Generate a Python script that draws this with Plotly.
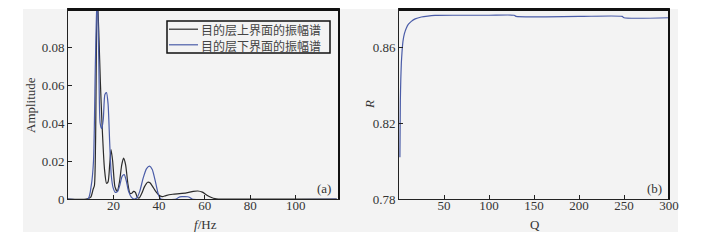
import plotly.graph_objects as go

# ---- data: panel (a) amplitude spectra ----
freq_upper = [0, 8, 10, 11, 11.6, 12.1, 12.8, 13.6, 14.2, 15, 16, 16.9, 17.6, 18.3, 18.9, 19.6,
              20.6, 21.6, 22.6, 23.6, 24.4, 25.3, 26.3, 27.2, 28, 28.8, 29.6, 30.4, 31.2, 32.4,
              33.6, 35, 36, 37.2, 38.5, 40, 41.5, 43, 46, 49, 52, 55, 57, 59, 61, 63, 64.5, 66, 118]
amp_upper = [0, 0, 0.001, 0.005, 0.007, 0.03, 0.11, 0.085, 0.062, 0.038, 0.016, 0.0083, 0.009,
             0.018, 0.026, 0.02, 0.0065, 0.004, 0.009, 0.018, 0.0215, 0.018, 0.008, 0.003, 0.003,
             0.004, 0.0035, 0.001, 0.0005, 0.003, 0.0065, 0.0088, 0.0085, 0.0065, 0.004, 0.002,
             0.0012, 0.0018, 0.0025, 0.0028, 0.0032, 0.004, 0.0042, 0.0036, 0.002, 0.0008, 0.0002, 0, 0]

freq_lower = [0, 8.8, 10.2, 11.2, 12, 12.8, 13.5, 14.1, 14.8, 15.5, 16.2, 16.9, 17.6, 18.3, 19,
              19.8, 20.8, 21.8, 22.8, 23.8, 24.7, 25.6, 26.6, 27.8, 29, 30.2, 31.5, 33, 34.5, 35.8,
              37, 38.5, 39.8, 40.8, 47.5, 48.5, 50, 52.5, 53.5, 54.5, 118]
amp_lower = [0, 0, 0.007, 0.02, 0.07, 0.11, 0.075, 0.04, 0.037, 0.042, 0.055, 0.056, 0.05, 0.03,
             0.0125, 0.006, 0.0035, 0.004, 0.0075, 0.012, 0.0128, 0.0095, 0.004, 0.001, 0, 0.0005,
             0.004, 0.011, 0.016, 0.0173, 0.0155, 0.0085, 0.002, 0, 0, 0.0008, 0.0012, 0.0012,
             0.0008, 0, 0]

name_upper = "目的层上界面的振幅谱"
name_lower = "目的层下界面的振幅谱"

# ---- data: panel (b) R vs Q ----
q_values = [1, 1.5, 2, 2.6, 3.3, 4.4, 6, 8.2, 10.5, 13.7, 18, 24.8, 32, 40, 60, 100, 128, 130,
            200, 248, 250, 300]
r_values = [0.802, 0.832, 0.843, 0.8515, 0.857, 0.863, 0.867, 0.870, 0.872, 0.8735, 0.8748,
            0.8758, 0.8763, 0.8766, 0.8767, 0.8767, 0.8767, 0.8761, 0.8761, 0.8761, 0.8754, 0.8754]

a_xticks = [20, 40, 60, 80, 100]
a_yticks = [0, 0.02, 0.04, 0.06, 0.08]
a_yticklabels = ["0", "0.02", "0.04", "0.06", "0.08"]
b_xticks = [50, 100, 150, 200, 250, 300]
b_yticks = [0.78, 0.82, 0.86]

W, H = 704, 242
BLACK = "#2b2b2b"
BLUE = "#4a5ca8"
BG = "#f3f3f3"
SERIF = "Liberation Serif, Times New Roman, serif"
CJK = "Noto Sans CJK SC"

def px(x):
    return x / W

def py(y):
    return 1 - y / H

fig = go.Figure()
fig.add_trace(go.Scatter(x=freq_upper, y=amp_upper, name=name_upper, mode="lines",
                         line=dict(color=BLACK, width=1.2, shape="spline", smoothing=0.6),
                         xaxis="x", yaxis="y", showlegend=False))
fig.add_trace(go.Scatter(x=freq_lower, y=amp_lower, name=name_lower, mode="lines",
                         line=dict(color=BLUE, width=1.2, shape="spline", smoothing=0.6),
                         xaxis="x", yaxis="y", showlegend=False))
fig.add_trace(go.Scatter(x=q_values, y=r_values, mode="lines", showlegend=False,
                         line=dict(color=BLUE, width=1.2, shape="spline", smoothing=0.6),
                         xaxis="x2", yaxis="y2"))

axis_common = dict(showgrid=False, zeroline=False, showline=True, linecolor="#222",
                   linewidth=1, ticks="inside", ticklen=4, tickcolor="#222", mirror=True,
                   tickfont=dict(family=SERIF, size=13, color="#333"), automargin=False)

ydom = [py(199), py(9)]
fig.update_layout(
    width=W, height=H,
    margin=dict(l=0, r=0, t=0, b=0),
    paper_bgcolor="white",
    plot_bgcolor=BG,
    xaxis=dict(domain=[px(68), px(339)], range=[0, 119], tickvals=a_xticks,
               anchor="y", ticklabelstandoff=-6, **axis_common),
    yaxis=dict(domain=ydom, range=[0, 0.1], tickvals=a_yticks, ticktext=a_yticklabels,
               anchor="x", **axis_common),
    xaxis2=dict(domain=[px(399), px(669)], range=[0, 300], tickvals=b_xticks,
                anchor="y2", ticklabelstandoff=-6, **axis_common),
    yaxis2=dict(domain=ydom, range=[0.78, 0.88], tickvals=b_yticks,
                tickformat=".2f", anchor="x2", **axis_common),
    showlegend=False,
)

shapes = [
    dict(type="rect", xref="paper", yref="paper", x0=px(23), x1=px(678), y0=py(232), y1=py(9),
         fillcolor=BG, line=dict(width=0), layer="below"),
]
# thick top/right frame edges
for xd in ("x", "x2"):
    shapes.append(dict(type="line", xref=f"{xd} domain", yref="paper", x0=0, x1=1,
                       y0=py(9.5), y1=py(9.5), line=dict(color="#111", width=3)))
    shapes.append(dict(type="line", xref=f"{xd} domain", yref="paper", x0=1, x1=1,
                       y0=py(199), y1=py(9), line=dict(color="#111", width=2)))

# legend box (drawn manually to match the compact original)
shapes.append(dict(type="rect", xref="paper", yref="paper", x0=px(167), x1=px(330),
                   y0=py(53), y1=py(21), fillcolor=BG, line=dict(color="#111", width=1.5)))
for color, yy in ((BLACK, 29.2), (BLUE, 44.8)):
    shapes.append(dict(type="line", xref="paper", yref="paper", x0=px(169), x1=px(198),
                       y0=py(yy), y1=py(yy), line=dict(color=color, width=1.2)))
annotations = [dict(text=name_upper + "<br>" + name_lower, xref="paper", yref="paper",
                    x=px(199), y=py(37), xanchor="left", yanchor="middle", align="left",
                    showarrow=False, font=dict(family=CJK, size=12, color="#444"))]
fig.update_layout(shapes=shapes)

ann_font = dict(family=SERIF, size=13, color="#333")
def ann(text, x, y, angle=0):
    return dict(text=text, xref="paper", yref="paper", x=px(x), y=py(y), textangle=angle,
                xanchor="center", yanchor="middle", showarrow=False, font=ann_font)

annotations += [
    ann("Amplitude", 30, 105, -90),
    ann("<i>f</i>/Hz", 205, 224),
    ann("<i>R</i>", 369, 105, -90),
    ann("Q", 535, 224),
    ann("(a)", 324, 188),
    ann("(b)", 654, 188),
]
fig.update_layout(annotations=annotations)

fig.write_html("out.html", config={"displayModeBar": False},
               post_script="document.body.style.margin='0';document.body.style.overflow='hidden';")
